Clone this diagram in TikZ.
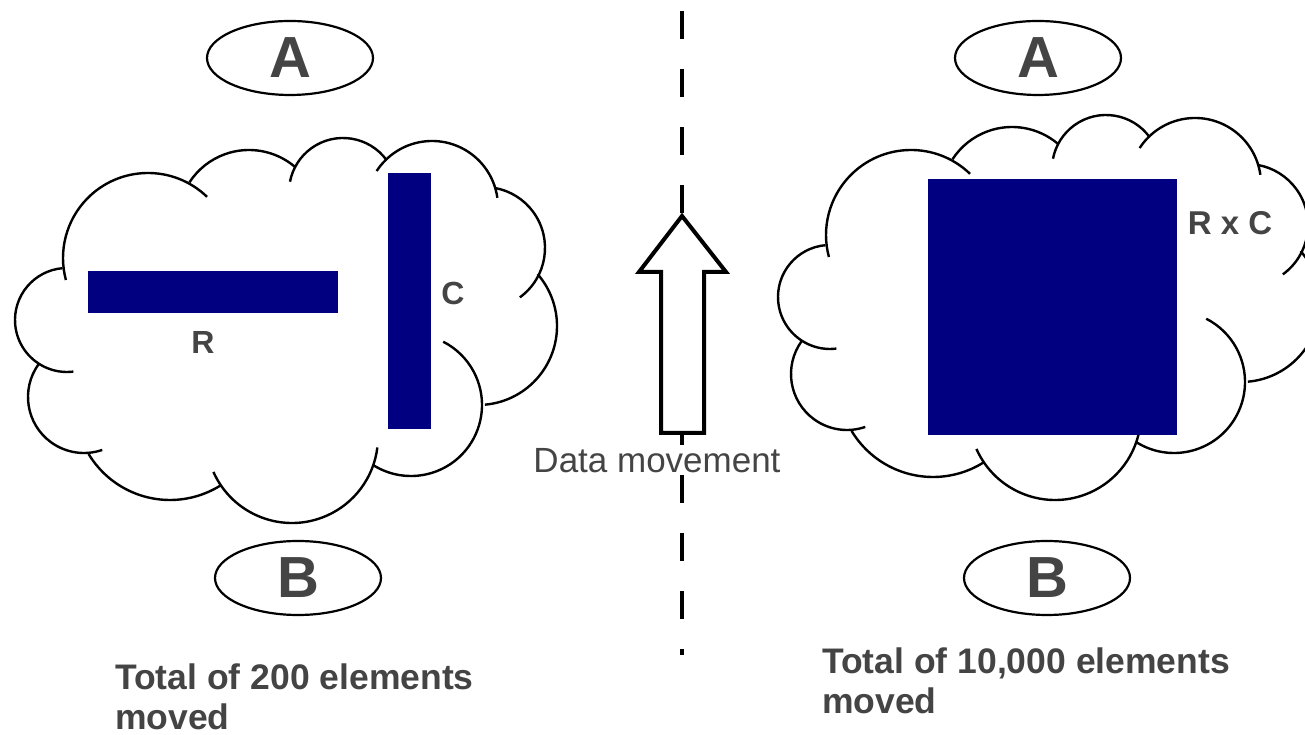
\documentclass[tikz,border=0pt]{standalone}
\usepackage{fontspec}
\setmainfont{Liberation Sans}
\usetikzlibrary{shapes.geometric}
\definecolor{navy}{HTML}{000080}
\definecolor{inkgray}{HTML}{444444}
\begin{document}
\begin{tikzpicture}[x=1pt,y=1pt,
  cloudline/.style={line width=2.4pt},
  bar/.style={fill=navy},
  tag/.style={draw,ellipse,line width=2.2pt,minimum width=166pt,minimum height=74pt,
    inner sep=0pt,text=inkgray,font=\fontsize{58}{60}\selectfont\bfseries},
  dim/.style={text=inkgray,inner sep=0pt,font=\fontsize{32}{36}\selectfont\bfseries},
  total/.style={text=inkgray,align=left,anchor=base west,inner sep=0pt,
    font=\fontsize{35.5}{40}\selectfont\bfseries}]
  \useasboundingbox (0,0) rectangle (1305,735);
  \foreach \dx/\dy in {0/0,763/23}
    \foreach \cx/\cy/\r/\s/\e in {148/477/85/46/195, 67/415/52/95/277,
        84/338/56/144/289, 170/330/95/211/302, 292/298/86/204/353,
        411/330/71/238/423, 478/409/79/275/401, 484/487/61/-54/80,
        432/528/66/8/147, 343/543/54/36/169, 249/514/71/50/147}
      \draw[cloudline] (\cx+\dx,\cy+\dy) ++(\s:\r)
        arc[start angle=\s,end angle=\e,radius=\r];
  \fill[bar] (88,464) rectangle (338,422);
  \fill[bar] (388,562) rectangle (431,306);
  \fill[bar] (928,556) rectangle (1177,300);
  \node[dim] (lblR) at (203,392) {R};
  \node[dim] (lblC) at (453,442) {C};
  \node[dim,font=\fontsize{33}{36}\selectfont\bfseries] (lblRC) at (1230,512) {R x C};
  \node[tag] (aL) at (290,677) {A};
  \node[tag] (bL) at (298,157) {B};
  \node[tag] (aR) at (1038,677) {A};
  \node[tag] (bR) at (1047,157) {B};
  \draw[line width=4pt,dash pattern=on 28pt off 30pt] (682,724) -- (682,80);
  \draw[line width=4pt,fill=white]
    (682,519) -- (726,463) -- (704,463) -- (704,302)
    -- (661,302) -- (661,463) -- (639,463) -- cycle;
  \node[text=inkgray,font=\fontsize{35}{40}\selectfont] (move) at (657,274) {Data movement};
  \node[total] (totL) at (115,5) {Total of 200 elements\\moved};
  \node[total] (totR) at (822,21) {Total of 10,000 elements\\moved};
\end{tikzpicture}
\end{document}
